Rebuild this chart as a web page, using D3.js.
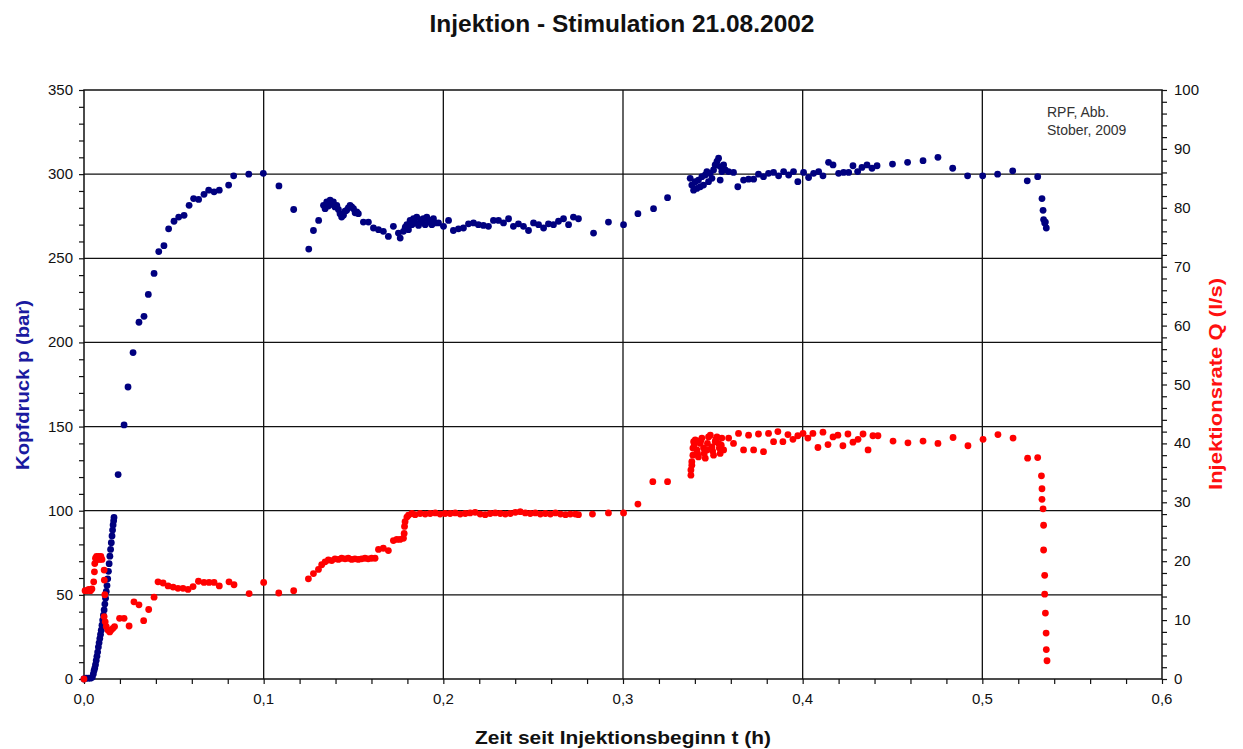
<!DOCTYPE html>
<html>
<head>
<meta charset="utf-8">
<script src="https://cdn.jsdelivr.net/npm/d3@7/dist/d3.min.js"></script>
<style>
  html, body { margin: 0; padding: 0; background: #fff; }
  svg { display: block; }
  .tick-label { font-family: "Liberation Sans", Arial, sans-serif; font-size: 15px; fill: #111; }
</style>
</head>
<body>
<svg id="chart" width="1243" height="749"></svg>
<script>
// Time axis (h) tick labels and value axes
const timeTicks = [0, 0.1, 0.2, 0.3, 0.4, 0.5, 0.6];
const timeTickLabels = ["0,0", "0,1", "0,2", "0,3", "0,4", "0,5", "0,6"];
const pressureTicks = [0, 50, 100, 150, 200, 250, 300, 350];
const rateTicks = [0, 10, 20, 30, 40, 50, 60, 70, 80, 90, 100];

// Kopfdruck p (bar) over time t (h)
const pressureT = [
  0, 0.0012, 0.0024, 0.0036, 0.0046,
  0.0052, 0.0056, 0.006, 0.0064, 0.0068, 0.0072, 0.0076, 0.008, 0.0084, 0.0088, 0.0092, 0.0096, 0.01,
  0.0104, 0.0108, 0.0112, 0.0116, 0.012, 0.0124, 0.0128, 0.0132, 0.0136, 0.014, 0.0144, 0.0148, 0.0152,
  0.0156, 0.0159, 0.0162, 0.0165, 0.0167,
  0.019, 0.0223, 0.0245, 0.0273, 0.0306, 0.0334, 0.0358, 0.039, 0.0416, 0.0445, 0.0471, 0.0501, 0.0527,
  0.0557, 0.0585, 0.061, 0.0638, 0.0668, 0.0694, 0.0724, 0.0753, 0.0805, 0.0833, 0.0917, 0.0998, 0.1085,
  0.1167, 0.1251, 0.1277, 0.1306,
  0.1333, 0.1342, 0.1351, 0.136, 0.137, 0.1379, 0.1388, 0.1397, 0.1407, 0.1416, 0.1425, 0.1434, 0.1444,
  0.1453, 0.1462, 0.1471, 0.1481, 0.149, 0.15, 0.1509, 0.1518, 0.1527,
  0.1555, 0.1583, 0.1611, 0.1639, 0.1666, 0.1694, 0.1722, 0.175, 0.176,
  0.1778, 0.1788, 0.1797, 0.1806, 0.1815, 0.1825, 0.1834, 0.1843, 0.1852, 0.1862, 0.1871, 0.188, 0.1889,
  0.1899, 0.1908, 0.1917, 0.1927, 0.1936, 0.1945, 0.1955, 0.1973, 0.2001,
  0.2029, 0.2056, 0.2084, 0.2112, 0.214, 0.2168, 0.2195, 0.2223, 0.2251, 0.2279, 0.2307, 0.2335, 0.2363,
  0.239, 0.2418, 0.2446, 0.2474, 0.2502, 0.253, 0.2558, 0.2585, 0.2613, 0.2641, 0.2669, 0.2697, 0.2724,
  0.2752, 0.2836, 0.2919, 0.3003, 0.3083, 0.317, 0.3248,
  0.3374, 0.3383, 0.3393, 0.3402, 0.3411, 0.342, 0.343, 0.3439, 0.3448, 0.3458, 0.3467, 0.3476, 0.3485,
  0.3495, 0.3504, 0.3513, 0.3523, 0.3532, 0.3541, 0.3541, 0.355, 0.356, 0.3569, 0.3587, 0.3615,
  0.3639, 0.3671, 0.3699, 0.3727, 0.3754, 0.3782, 0.381, 0.3838, 0.3866, 0.3894, 0.3922, 0.3949, 0.3973,
  0.4005, 0.4033, 0.4061, 0.4089, 0.4113, 0.4144, 0.4169, 0.42, 0.4228, 0.4256, 0.428, 0.4306, 0.433,
  0.4358, 0.4386, 0.4414, 0.45, 0.4584, 0.467, 0.4753, 0.4835, 0.4918, 0.5002, 0.5085, 0.5169, 0.525,
  0.5308, 0.5332, 0.5338, 0.5341, 0.5347, 0.5351, 0.5356
];
const pressureBar = [
  0, 0.5, 0.5, 0.5, 1,
  3, 5, 6.5, 8.5, 11, 13.5, 16, 19, 21.5, 24, 26.5, 29, 32,
  35, 38, 41, 44.5, 48, 52, 55.5, 59.5, 64, 68.5, 73, 77, 81,
  85, 88.5, 91.5, 94, 96,
  121.5, 151, 173.5, 194, 212, 215.5, 228.5, 241, 254, 257.5, 267.5, 272, 274.5,
  275.5, 281.5, 285.5, 285, 288, 290.5, 289.5, 290.5, 293.5, 299, 300, 300.5, 293,
  279, 255.5, 266.5, 272.5,
  281.5, 279.5, 283.5, 281, 284.5, 282, 283.5, 280.5, 281.5, 279, 276.5, 274.5, 275.5,
  278, 278.5, 280, 281.5, 280.5, 279.5, 277, 277.5, 276.5,
  271.5, 271.5, 268, 267, 266, 263, 269, 265, 262,
  266, 268.5, 270, 267, 272.5, 270, 273.5, 271, 274.5, 269.5, 271.5, 273, 273.5,
  270, 274.5, 271.5, 272.5, 270, 273.5, 271, 271, 269,
  272.5, 266.5, 267.5, 268, 270.5, 271, 270, 269.5, 269, 272.5, 272.5, 271, 273.5,
  269, 270.5, 269, 266.5, 271, 270, 268, 270.5, 270, 272, 273.5, 270, 274.5,
  273.5, 265, 271.5, 270, 276.5, 279.5, 286,
  297.5, 293.5, 290.5, 295.5, 291.5, 296.5, 292.5, 298.5, 293.5, 299.5, 301.5, 295.5, 300.5,
  297.5, 302.5, 305.5, 307.5, 309.5, 304.5, 296.5, 301.5, 305.5, 302.5, 301.5, 301,
  292.5, 296.5, 297, 297, 300, 298.5, 300.5, 301, 299, 301.5, 299.5, 301.5, 295.5,
  301, 298, 300.5, 301.5, 299, 307, 305.5, 300.5, 301, 301, 305, 301.5, 304,
  305.5, 303.5, 305, 306, 307, 308, 310, 303.5, 299, 299, 300, 302, 296,
  298.5, 285.5, 278.5, 273, 271, 271.5, 268
];

// Injektionsrate Q (l/s) over time t (h)
const rateT = [
  0, 0.0006, 0.0016, 0.0026, 0.0036, 0.0044, 0.0054, 0.0058, 0.006, 0.0064, 0.007, 0.0076, 0.0082, 0.0088,
  0.0094, 0.01, 0.0112, 0.0113, 0.0116, 0.0112, 0.0118, 0.0124, 0.0133, 0.0143, 0.0151, 0.0161, 0.017,
  0.0198, 0.0223, 0.0251, 0.0278, 0.0306, 0.0332, 0.036, 0.039, 0.0412, 0.044, 0.0468, 0.0496, 0.0523,
  0.0551, 0.0579, 0.0607, 0.0637, 0.0668, 0.0696, 0.0724, 0.0753, 0.0807, 0.0835, 0.0919, 0.1, 0.1084,
  0.1167, 0.1249, 0.1277, 0.1305, 0.1323, 0.1342, 0.136,
  0.1379, 0.1397, 0.1416, 0.1434, 0.1453, 0.1471, 0.149, 0.1508, 0.1527, 0.1545, 0.1564, 0.1582, 0.1601, 0.162,
  0.1639, 0.1666, 0.1694, 0.1722, 0.1741, 0.1759, 0.1778, 0.1782, 0.1784, 0.1787, 0.1797, 0.1806, 0.1825,
  0.1843, 0.1871, 0.1899, 0.1927, 0.1955, 0.1982, 0.201, 0.2038, 0.2066, 0.2094, 0.2122, 0.2149, 0.2177,
  0.2205, 0.2233, 0.2261, 0.2289, 0.2317, 0.2345, 0.2373, 0.2401, 0.2428, 0.2456, 0.2484, 0.2512, 0.254,
  0.2568, 0.2596, 0.2624, 0.2652, 0.268, 0.2707, 0.2735, 0.2752,
  0.283, 0.2919, 0.3003, 0.3083, 0.3166, 0.3248,
  0.3378, 0.3378, 0.3383, 0.3383, 0.3389, 0.3389, 0.3393,
  0.3397, 0.3402, 0.3411, 0.3415, 0.342, 0.343, 0.3433, 0.3439, 0.3448, 0.3452, 0.3458, 0.3467, 0.347,
  0.3476, 0.3486, 0.3495, 0.3499, 0.3504, 0.3513, 0.3517, 0.3523, 0.3532, 0.3536, 0.3541, 0.3547, 0.355, 0.356,
  0.3588, 0.3615, 0.3643, 0.3671, 0.3699, 0.3727, 0.3754, 0.3782, 0.381, 0.3838, 0.3862, 0.389, 0.3918,
  0.3946, 0.3973, 0.4002, 0.4029, 0.4057, 0.4085, 0.4113, 0.4141, 0.4169, 0.4196, 0.4224, 0.4252, 0.428,
  0.4308, 0.4336, 0.4364, 0.4391, 0.4419, 0.4503, 0.4586, 0.467, 0.4753, 0.4837, 0.492, 0.5004, 0.5087,
  0.5171, 0.5252, 0.5308, 0.5329, 0.5332, 0.5332, 0.5338, 0.5341, 0.5341, 0.5347, 0.5347, 0.5351, 0.5355,
  0.5356, 0.536
];
const rateLs = [
  0, 15, 15, 15.2, 15, 15.3, 16.5, 18.2, 19.6, 20.5, 20.8, 20.3, 20.8, 20.3,
  20.8, 20.3, 18.5, 16.8, 14.3, 10.6, 9.7, 8.9, 8.3, 8.0, 8.3, 8.6, 8.9,
  10.3, 10.3, 9.0, 13.1, 12.6, 9.9, 11.8, 13.9, 16.5, 16.3, 15.8, 15.6, 15.4,
  15.4, 15.2, 15.7, 16.6, 16.4, 16.4, 16.4, 15.8, 16.5, 16.0, 14.5, 16.4, 14.6,
  15.0, 17.0, 17.9, 18.6, 19.4, 19.9, 20.2,
  20.1, 20.4, 20.3, 20.5, 20.4, 20.5, 20.3, 20.4, 20.3, 20.4, 20.5, 20.4, 20.5, 20.5,
  22.0, 22.2, 21.8, 23.5, 23.7, 23.7, 23.9, 24.7, 25.9, 26.7, 27.5, 27.8, 28.1,
  27.9, 28.1, 28.0, 28.1, 28.2, 28.0, 28.1, 28.1, 28.2, 28.0, 28.1, 28.2, 28.3,
  28.0, 27.9, 28.1, 28.2, 28.1, 28.0, 28.1, 28.3, 28.4, 28.2, 28.1, 28.2, 28.0,
  28.1, 28.0, 28.2, 28.0, 27.9, 28.0, 28.0, 27.9,
  28.0, 28.2, 28.2, 29.7, 33.5, 33.5,
  34.6, 35.5, 36.3, 36.9, 38.0, 39.2, 40.3,
  39.8, 40.6, 38.9, 38.3, 37.7, 40.0, 40.5, 40.9, 39.2, 38.3, 37.5, 38.9, 40.0,
  41.1, 41.4, 39.4, 38.7, 38.0, 40.3, 40.7, 41.1, 40.0, 39.2, 38.3, 39.7, 40.9, 38.9,
  40.9, 40.0, 41.7, 38.9, 41.4, 38.9, 41.6, 38.6, 41.7, 40.3, 42.0, 40.3, 41.5,
  40.7, 41.3, 41.7, 40.9, 41.7, 39.3, 41.9, 39.8, 41.1, 41.4, 39.6, 41.6, 40.2,
  40.7, 41.6, 38.9, 41.3, 41.3, 40.4, 40.1, 40.4, 40.0, 41.0, 39.6, 40.7, 41.5,
  40.9, 37.5, 37.6, 34.5, 32.3, 30.5, 28.9, 26.1, 21.9, 17.6, 14.4, 11.2, 7.8,
  5.0, 3.1
];

const svg = d3.select("#chart");
const plot = { left: 84, right: 1162, top: 90, bottom: 679 };

const x = d3.scaleLinear().domain([0, 0.6]).range([plot.left, plot.right]);
const yP = d3.scaleLinear().domain([0, 350]).range([plot.bottom, plot.top]);
const yQ = d3.scaleLinear().domain([0, 100]).range([plot.bottom, plot.top]);

const fontMain = '"Liberation Sans", Arial, Helvetica, sans-serif';

// Grid lines
const grid = svg.append("g").attr("stroke", "#111").attr("stroke-width", 1.3);
grid.selectAll("line.h").data(pressureTicks.slice(1, -1)).join("line")
  .attr("x1", plot.left).attr("x2", plot.right)
  .attr("y1", d => yP(d)).attr("y2", d => yP(d));
grid.selectAll("line.v").data(timeTicks.slice(1, -1)).join("line")
  .attr("y1", plot.top).attr("y2", plot.bottom)
  .attr("x1", d => x(d)).attr("x2", d => x(d));

// Axes
const xAxis = d3.axisBottom(x).tickValues(d3.range(0, 0.6001, 0.02)).tickSize(5).tickFormat("");
svg.append("g").attr("transform", `translate(0,${plot.bottom})`).call(xAxis)
  .call(g => g.select(".domain").remove())
  .call(g => g.selectAll("line").attr("stroke", "#111").attr("stroke-width", 1.2));

const yLeft = d3.axisLeft(yP).tickValues(d3.range(0, 350.1, 10)).tickSize(5).tickFormat("");
svg.append("g").attr("transform", `translate(${plot.left},0)`).call(yLeft)
  .call(g => g.select(".domain").remove())
  .call(g => g.selectAll("line").attr("stroke", "#111").attr("stroke-width", 1.2));

const yRight = d3.axisRight(yQ).tickValues(d3.range(0, 100.1, 2)).tickSize(5).tickFormat("");
svg.append("g").attr("transform", `translate(${plot.right},0)`).call(yRight)
  .call(g => g.select(".domain").remove())
  .call(g => g.selectAll("line").attr("stroke", "#111").attr("stroke-width", 1.2));

// Tick labels
svg.append("g").selectAll("text").data(timeTicks).join("text")
  .attr("class", "tick-label")
  .attr("x", d => x(d)).attr("y", plot.bottom + 25)
  .attr("text-anchor", "middle")
  .text((d, i) => timeTickLabels[i]);

svg.append("g").selectAll("text").data(pressureTicks).join("text")
  .attr("class", "tick-label")
  .attr("x", plot.left - 11).attr("y", d => yP(d) + 5)
  .attr("text-anchor", "end")
  .text(d => d);

svg.append("g").selectAll("text").data(rateTicks).join("text")
  .attr("class", "tick-label")
  .attr("x", plot.right + 12).attr("y", d => yQ(d) + 5)
  .attr("text-anchor", "start")
  .text(d => d);

// Plot frame
svg.append("rect")
  .attr("x", plot.left).attr("y", plot.top)
  .attr("width", plot.right - plot.left).attr("height", plot.bottom - plot.top)
  .attr("fill", "none").attr("stroke", "#111").attr("stroke-width", 1.5);

// Data points: pressure (navy), then injection rate (red)
const pressure = pressureT.map((t, i) => ({ t, v: pressureBar[i] }));
const rate = rateT.map((t, i) => ({ t, v: rateLs[i] }));

svg.append("g").selectAll("circle").data(pressure).join("circle")
  .attr("cx", d => x(d.t)).attr("cy", d => yP(d.v)).attr("r", 3.4)
  .attr("fill", "#00007f");

svg.append("g").selectAll("circle").data(rate).join("circle")
  .attr("cx", d => x(d.t)).attr("cy", d => yQ(d.v)).attr("r", 3.4)
  .attr("fill", "#ff0000");

// Titles (condensed bold lettering)
function condensedText(sel, len) {
  return sel.style("font-family", fontMain).style("font-weight", "bold")
    .attr("textLength", len).attr("lengthAdjust", "spacingAndGlyphs");
}

condensedText(svg.append("text"), 385)
  .attr("x", 622).attr("y", 32)
  .attr("text-anchor", "middle")
  .style("font-size", "23px")
  .attr("fill", "#111")
  .text("Injektion - Stimulation 21.08.2002");

condensedText(svg.append("text"), 296)
  .attr("x", 623).attr("y", 744)
  .attr("text-anchor", "middle")
  .style("font-size", "19px")
  .attr("fill", "#111")
  .text("Zeit seit Injektionsbeginn t (h)");

condensedText(svg.append("text"), 170)
  .attr("transform", "translate(29,385) rotate(-90)")
  .attr("text-anchor", "middle")
  .style("font-size", "19px")
  .attr("fill", "#1a1aa0")
  .text("Kopfdruck p (bar)");

condensedText(svg.append("text"), 212)
  .attr("transform", "translate(1222,384) rotate(-90)")
  .attr("text-anchor", "middle")
  .style("font-size", "19px")
  .attr("fill", "#ff1010")
  .text("Injektionsrate Q (l/s)");

// Source note
const note = svg.append("text")
  .style("font-family", fontMain).style("font-size", "14px")
  .attr("fill", "#333");
note.append("tspan").attr("x", 1047).attr("y", 117).text("RPF, Abb.");
note.append("tspan").attr("x", 1047).attr("y", 135).text("Stober, 2009");
</script>
</body>
</html>
